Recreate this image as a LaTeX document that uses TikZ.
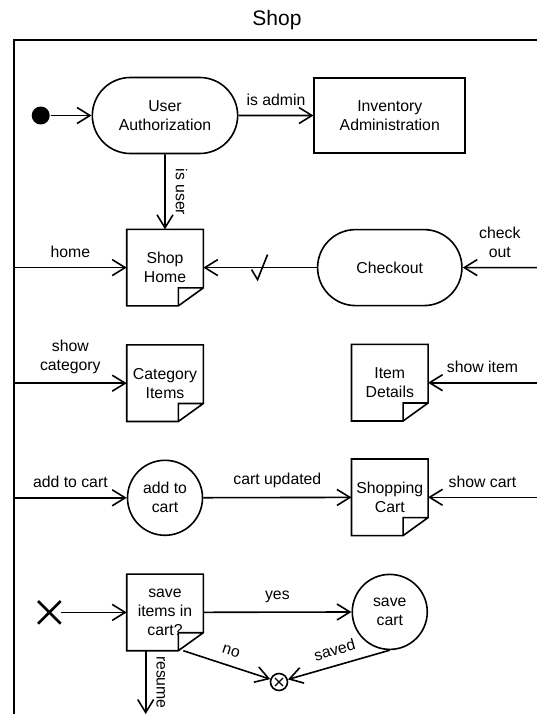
\documentclass[tikz,border=0pt]{standalone}
\usepackage{fontspec}
\setmainfont{Liberation Sans}
\usetikzlibrary{arrows.meta}
\usetikzlibrary{positioning}
\usetikzlibrary{shapes.misc}

\begin{document}
\begin{tikzpicture}[x=1pt, y=-1pt, line width=1.6pt,
    font=\fontsize{15.8}{19}\selectfont,
    activity/.style={draw, rounded rectangle, minimum width=152pt, minimum height=76pt, align=center},
    action/.style={draw, rectangle, minimum width=151pt, minimum height=75pt, align=center},
    doc/.style={minimum width=75pt, minimum height=75pt, inner sep=1pt, align=center},
    actcircle/.style={draw, circle, minimum size=75pt, inner sep=1pt, align=center},
    stopx/.style={draw, cross out, line width=2.6pt, minimum size=20pt, inner sep=0pt},
    flowend/.style={draw, circle, inner sep=0pt, minimum size=17pt,
      path picture={\draw[line width=1.3pt] (path picture bounding box.center) +(-4pt,-4pt) -- +(4pt,4pt) +(-4pt,4pt) -- +(4pt,-4pt);}},
    flow/.style={-{Straight Barb[length=13pt,width=16pt]}},
    lbl/.style={inner sep=1pt, align=center}]
  \useasboundingbox (0,0) rectangle (537,715);
  \node[font=\fontsize{21}{25}\selectfont] (title) at (277,20) {Shop};
  \coordinate (fl) at (14,40);
  \coordinate (fr) at (537,40);
  \coordinate (fb) at (14,714);
  \draw (fr) -- (fl) -- (fb);

  \node[activity] (auth) at (165,115.5) {User\\Authorization};
  \node[circle, fill, inner sep=0pt, minimum size=18pt] (start) [left=41pt of auth] {};
  \node[action] (inv) [right=75pt of auth] {Inventory\\Administration};
  \node[doc] (home) [below=75pt of auth] {Shop\\Home};
  \node[activity, minimum width=151pt] (checkout) [below=75pt of inv] {Checkout};
  \node[doc] (cat) [below=39pt of home] {Category\\Items};
  \node[doc] (item) [below=38pt of checkout] {Item\\Details};
  \node[actcircle] (add) [below=38pt of cat] {add to\\cart};
  \node[doc] (cart) [below=38pt of item] {Shopping\\Cart};
  \node[doc] (save) [below=38pt of add] {save\\items in\\cart?};
  \node[actcircle] (savecart) [below=38pt of cart] {save\\cart};
  \node[stopx] (cancel) [left=66pt of save] {};
  \node[flowend] (fin) at (279,682) {};

  \foreach \n in {home,cat,item,cart,save}
    \draw (\n.north west) -- (\n.north east) -- ([yshift=18pt]\n.south east)
      -- ([xshift=-25pt]\n.south east) -- (\n.south west) -- cycle
      ([xshift=-25pt]\n.south east) |- ([yshift=18pt]\n.south east);

  \coordinate (rs) at ([xshift=19pt]save.south west);

  \draw[flow] (start) -- (auth);
  \draw[flow] (auth) -- node[lbl, above=8pt] {is admin} (inv);
  \draw[flow] (auth) -- node[lbl, anchor=south, rotate=-90, inner sep=10pt] {is user} (home);
  \draw[flow] (checkout) -- coordinate (tick) (home);
  \draw ([shift={(-8.5pt,-2pt)}]tick) -- ([shift={(-2.5pt,-12pt)}]tick) -- ([shift={(7.5pt,13pt)}]tick);
  \draw[flow] (fl |- home) -- node[lbl, above=8pt] {home} (home);
  \draw[flow] (fr |- checkout) -- node[lbl, above=8pt] {check\\out} (checkout);
  \draw[flow] (fl |- cat) -- node[lbl, above=8pt] {show\\category} (cat);
  \draw[flow] (fr |- item) -- node[lbl, above=8pt] {show item} (item);
  \draw[flow] (fl |- add) -- node[lbl, above=8pt] {add to cart} (add);
  \draw[flow] (add) -- node[lbl, above=8pt] {cart updated} (cart);
  \draw[flow] (fr |- cart) -- node[lbl, above=8pt] {show cart} (cart);
  \draw[flow] (cancel) -- (save);
  \draw[flow] (save) -- node[lbl, above=8pt] {yes} (savecart);
  \draw[flow] ([xshift=-20pt]save.south east) -- node[lbl, sloped, above=8pt] {no} (fin);
  \draw[flow] (savecart.south) -- node[lbl, sloped, above=8pt] {saved} (fin);
  \draw[flow] (rs) -- node[lbl, anchor=south, rotate=-90, inner sep=10pt] {resume} (rs |- fb);
\end{tikzpicture}
\end{document}
